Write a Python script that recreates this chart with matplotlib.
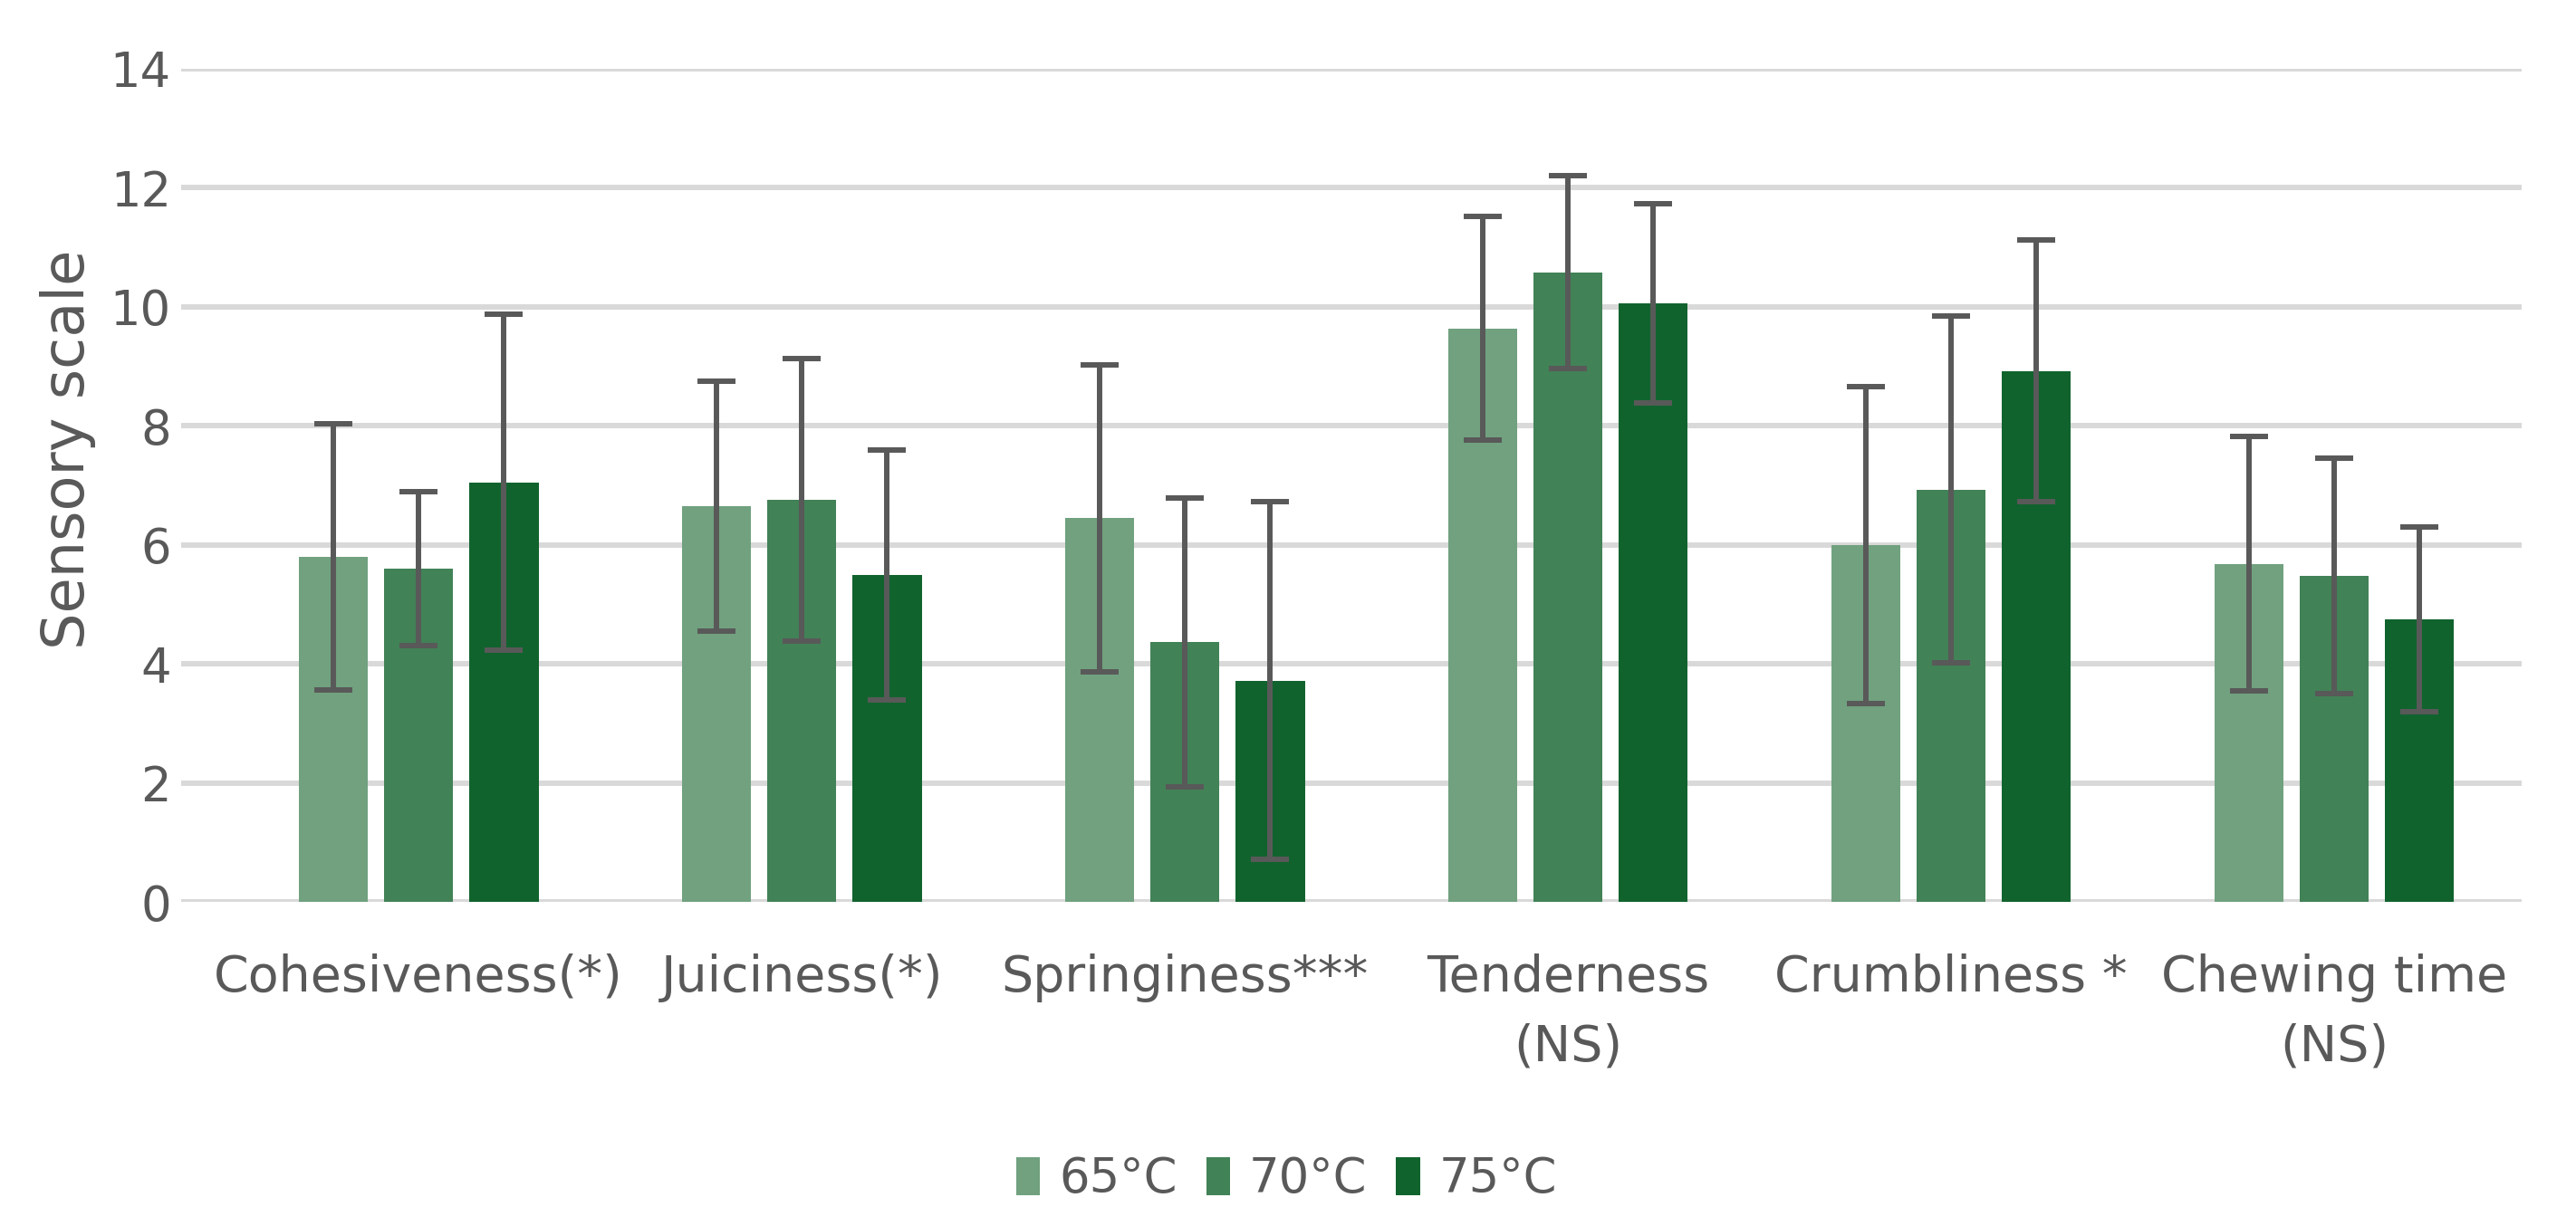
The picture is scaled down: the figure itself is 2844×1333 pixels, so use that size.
import matplotlib
matplotlib.use("Agg")
import matplotlib.pyplot as plt
import numpy as np
from matplotlib.patches import Patch

categories = ["Cohesiveness(*)", "Juiciness(*)", "Springiness***", "Tenderness\n(NS)", "Crumbliness *", "Chewing time\n(NS)"]
series_names = ["65°C", "70°C", "75°C"]
values_65 = [5.8, 6.65, 6.45, 9.64, 6.0, 5.68]
values_70 = [5.6, 6.76, 4.36, 10.58, 6.93, 5.48]
values_75 = [7.05, 5.5, 3.72, 10.06, 8.92, 4.75]
err_65 = [2.24, 2.1, 2.58, 1.88, 2.66, 2.14]
err_70 = [1.3, 2.37, 2.42, 1.62, 2.92, 1.98]
err_75 = [2.82, 2.1, 3.0, 1.68, 2.2, 1.55]
yticks = [0, 2, 4, 6, 8, 10, 12, 14]

colors = ["#71A17F", "#428257", "#11632E"]
text_color = "#595959"

plt.rcParams['font.family'] = ['DejaVu Sans']

fig = plt.figure(figsize=(28.44, 13.33), dpi=100)
ax = fig.add_axes([0.0703, 0.2528, 0.9087, 0.6902])

x = np.arange(len(categories))
width = 0.18
offsets = [-0.223, 0.0, 0.223]
for vals, errs, c, off, name in zip([values_65, values_70, values_75], [err_65, err_70, err_75], colors, offsets, series_names):
    ax.bar(x + off, vals, width, color=c, zorder=2, label=name)
    ax.errorbar(x + off, vals, yerr=errs, fmt='none', ecolor="#595959", elinewidth=4.3,
                capsize=15, capthick=4.3, zorder=3)

ax.set_ylim(0, 14)
ax.set_xlim(-0.62, 5.49)
ax.set_yticks(yticks)
ax.yaxis.grid(True, color="#D9D9D9", linewidth=4.3, zorder=0)
ax.set_axisbelow(True)
for s in ax.spines.values():
    s.set_visible(False)
ax.tick_params(axis='both', length=0, colors=text_color, labelsize=40)
ax.tick_params(axis='y', labelsize=38, pad=8)
ax.tick_params(axis='x', pad=41)
ax.set_xticks(x)
ax.set_xticklabels(categories, linespacing=1.53)
for t in ax.get_yticklabels() + ax.get_xticklabels():
    t.set_color(text_color)

fig.text(0.0265, 0.628, "Sensory scale", rotation=90, va='center', ha='center', fontsize=46, color=text_color)

handles = [Patch(facecolor=c) for c in colors]
fig.legend(handles, series_names, loc='center', bbox_to_anchor=(0.4995, 0.023), ncol=3, frameon=False,
           fontsize=38, labelcolor=text_color, handlelength=0.5, handleheight=0.85, handletextpad=0.4, columnspacing=0.6)

fig.savefig("out.png", dpi=100, facecolor="white")
